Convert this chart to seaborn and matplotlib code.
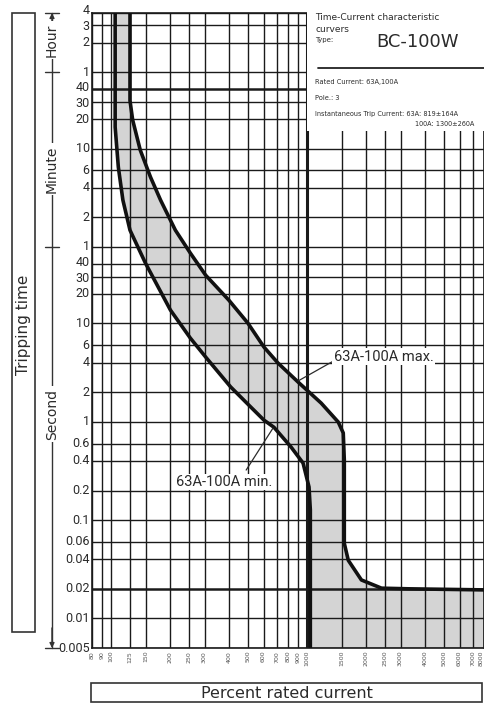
import matplotlib
matplotlib.use('Agg')
import matplotlib.pyplot as plt
import matplotlib.transforms as mtrans
from matplotlib.patches import Rectangle
import pandas as pd
import seaborn as sns

# x axis: percent rated current
x_ticks = [80, 90, 100, 125, 150, 200, 250, 300, 400, 500, 600, 700, 800, 900, 1000,
           1500, 2000, 2500, 3000, 4000, 5000, 6000, 7000, 8000]

# y axis tick labels (printed values) by unit
hour_labels = [4, 3, 2, 1]
minute_labels = [40, 30, 20, 10, 6, 4, 2, 1]
second_labels = [40, 30, 20, 10, 6, 4, 2, 1, 0.6, 0.4, 0.2, 0.1, 0.06, 0.04, 0.02, 0.01, 0.005]

# max curve (percent, seconds)
max_current = [125, 125, 129, 141, 159, 179, 213, 254, 304, 399, 499, 603, 711, 900,
               1181, 1443, 1531, 1550, 1550, 1624, 1895, 2400, 3300, 8000]
max_time = [14400, 1850, 1174, 581, 309, 180, 89, 52, 31, 17.3, 10.1, 5.76, 3.96, 2.54,
            1.55, 0.995, 0.77, 0.41, 0.058, 0.039, 0.0246, 0.0203, 0.02, 0.0195]

# min curve (percent, seconds)
min_current = [105, 105, 109, 115, 125, 150, 201, 254, 304, 408, 517, 603, 678, 829,
               955, 1024, 1040, 1040]
min_time = [14400, 996, 390, 180, 89, 41, 13.7, 7.1, 4.56, 2.26, 1.41, 1.04, 0.88, 0.554,
            0.38, 0.217, 0.127, 0.005]

y_min, y_max = 0.005, 14400

sns.set_style('white')
plt.rcParams['font.family'] = ['DejaVu Sans']
narrow = ['Roboto', 'DejaVu Sans']
ink = '#2b2b2b'

fig = plt.figure(figsize=(4.84, 7.04), dpi=100)
ax = fig.add_axes([92 / 484, 56 / 704, 392 / 484, 635 / 704])

# shaded band between the two curves
band_x = max_current + [8000, min_current[-1]] + min_current[::-1]
band_y = max_time + [y_min, y_min] + min_time[::-1]
ax.fill(band_x, band_y, color='#d4d4d4', lw=0, zorder=1)

df_max = pd.DataFrame({'current': max_current, 'time': max_time})
df_min = pd.DataFrame({'current': min_current, 'time': min_time})
sns.lineplot(data=df_max, x='current', y='time', sort=False, estimator=None,
             color='#111111', lw=2.6, ax=ax, zorder=4)
sns.lineplot(data=df_min, x='current', y='time', sort=False, estimator=None,
             color='#111111', lw=2.6, ax=ax, zorder=4)

ax.set_xscale('log')
ax.set_yscale('log')
ax.set_xlim(80, 8000)
ax.set_ylim(y_min, y_max)

# grid lines
y_vals = [h * 3600 for h in hour_labels] + [m * 60 for m in minute_labels] + second_labels
y_text = [str(v) for v in hour_labels + minute_labels + second_labels]
for v in x_ticks:
    ax.axvline(v, color='#1a1a1a', lw=2.2 if v == 1000 else 1.0, zorder=2)
for v in y_vals:
    thick = v in (2400, 0.02)
    ax.axhline(v, color='#1a1a1a', lw=1.8 if thick else 1.0, zorder=2)

ax.set_xticks(x_ticks)
ax.set_xticklabels([str(v) for v in x_ticks], rotation=90, fontsize=4.5, color='#555555')
ax.get_xticklabels()[-1].set_horizontalalignment('right')
ax.xaxis.set_minor_locator(matplotlib.ticker.NullLocator())
ax.set_yticks([])
ax.yaxis.set_minor_locator(matplotlib.ticker.NullLocator())
ax.tick_params(axis='both', length=0, pad=2)
ax.set_xlabel('')
ax.set_ylabel('')
for s in ax.spines.values():
    s.set_color('#1a1a1a')
    s.set_linewidth(1.2)

# y labels drawn by hand so the crowded pairs can be nudged apart
ylab_tr = mtrans.blended_transform_factory(ax.transAxes, ax.transData)
nudge = {0: 2.0, 1: -1.2, 4: 1.6, 5: -1.6, 12: 1.6, 13: -1.6}
for i, (v, t) in enumerate(zip(y_vals, y_text)):
    off = mtrans.ScaledTranslation(0, nudge.get(i, 0) / 100, fig.dpi_scale_trans)
    ax.text(-0.006, v, t, ha='right', va='center', fontsize=9, color=ink,
            family=narrow, transform=ylab_tr + off, clip_on=False)

# curve labels
ax.annotate('63A-100A max.', xy=(900, 2.6), xytext=(1370, 4.6), ha='left', va='center',
            fontsize=10.5, color=ink, family=narrow, zorder=6,
            bbox=dict(boxstyle='square,pad=0.1', fc='white', ec='none'),
            arrowprops=dict(arrowstyle='-', color=ink, lw=0.9, relpos=(0, 0.2),
                            shrinkA=0, shrinkB=0))
ax.annotate('63A-100A min.', xy=(670, 0.86), xytext=(376, 0.244), ha='center', va='center',
            fontsize=10.5, color=ink, family=narrow, zorder=6,
            bbox=dict(boxstyle='square,pad=0.1', fc='white', ec='none'),
            arrowprops=dict(arrowstyle='-', color=ink, lw=0.9, relpos=(0.7, 1.0),
                            shrinkA=3, shrinkB=0))

# decoration layer in pixel coordinates
deco = fig.add_axes([0, 0, 1, 1], zorder=5)
deco.set_xlim(0, 484)
deco.set_ylim(704, 0)
deco.axis('off')
deco.patch.set_visible(False)

# Tripping time box
deco.add_patch(Rectangle((12, 13), 23, 619, fill=False, ec='#333333', lw=1.2))
deco.text(24, 325, 'Tripping time', rotation=90, ha='center', va='center',
          fontsize=11, color=ink)

# unit bracket (x in pixels, y in data seconds)
tr = mtrans.blended_transform_factory(deco.transData, ax.transData)
deco.plot([52, 52], [y_min, y_max], color='#333333', lw=1.0, transform=tr)
for v in [y_max, 3600, 60, y_min]:
    deco.plot([45, 59], [v, v], color='#333333', lw=1.0, transform=tr)
deco.annotate('', xy=(52, y_max), xytext=(52, 9000), xycoords=tr, textcoords=tr,
              arrowprops=dict(arrowstyle='-|>', color='#333333', lw=1.0,
                              mutation_scale=7, shrinkA=0, shrinkB=0))
deco.annotate('', xy=(52, y_min), xytext=(52, 0.008), xycoords=tr, textcoords=tr,
              arrowprops=dict(arrowstyle='-|>', color='#333333', lw=1.0,
                              mutation_scale=7, shrinkA=0, shrinkB=0))
for label, pos in [('Hour', 7650), ('Minute', 373), ('Second', 1.2)]:
    deco.text(52, pos, label, rotation=90, ha='center', va='center', fontsize=10,
              color=ink, transform=tr,
              bbox=dict(boxstyle='square,pad=0.15', fc='white', ec='none'))

# Percent rated current box
deco.add_patch(Rectangle((91, 683), 391, 19, fill=False, ec='#333333', lw=1.2))
deco.text(287, 693, 'Percent rated current', ha='center', va='center',
          fontsize=11.5, color=ink)

# info box top right
deco.add_patch(Rectangle((307, 0), 177, 131, fc='white', ec='none'))
deco.text(315, 17, 'Time-Current characteristic', fontsize=6.5, color=ink, va='center')
deco.text(315, 29, 'curvers', fontsize=6.5, color=ink, va='center')
deco.text(315, 40, 'Type:', fontsize=5, color=ink, va='center')
deco.text(376, 42, 'BC-100W', fontsize=13, color=ink, va='center')
deco.plot([318, 484], [68, 68], color='#222222', lw=1.3)
deco.text(315, 82, 'Rated Current: 63A,100A', fontsize=4.8, color=ink, va='center')
deco.text(315, 98, 'Pole.: 3', fontsize=4.8, color=ink, va='center')
deco.text(315, 114, 'Instantaneous Trip Current: 63A: 819\u00b1164A', fontsize=4.7,
          color=ink, va='center')
deco.text(474, 124, '100A: 1300\u00b1260A', fontsize=4.7, color=ink, va='center', ha='right')

fig.savefig('out.png', dpi=100)
